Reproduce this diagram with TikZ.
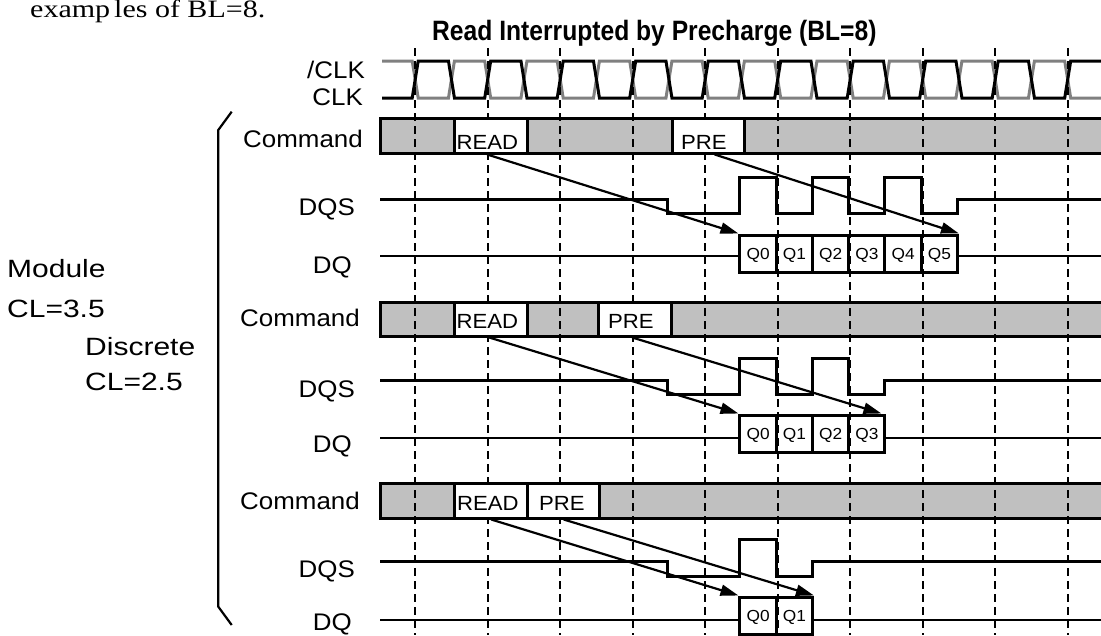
\documentclass[tikz,border=0pt]{standalone}
\usepackage{fontspec}
\setmainfont{Liberation Sans}
\newfontfamily\labfont{Liberation Sans}[FakeStretch=1.08]
\newfontfamily\sidefont{Liberation Sans}[FakeStretch=1.2]
\newfontfamily\titlefont{Liberation Sans}[FakeStretch=0.88]
\newfontfamily\serffont{Liberation Serif}[FakeStretch=1.2]
\usetikzlibrary{arrows.meta,calc}
\definecolor{bargray}{RGB}{192,192,192}
\definecolor{clkgray}{RGB}{128,128,128}
\newcommand\C[1]{(415.2+36.25*(#1))}
\newcommand\X[1]{(415.2+36.25*(#1)-1.5)}
\begin{document}
\begin{tikzpicture}[x=1pt,y=-1pt,
  sig/.style={line width=3pt},
  clkline/.style={line width=3pt, line join=miter},
  thinsig/.style={line width=2pt},
  grid/.style={line width=2pt, dash pattern=on 8pt off 5pt},
  bar/.style={draw, line width=3pt, fill=bargray},
  cmdbox/.style={rectangle, draw, line width=3pt, fill=white, inner sep=0pt, minimum width=72.5pt},
  cmdtxt/.style={inner sep=0pt, anchor=base west, font=\labfont\fontsize{20.5}{24}\selectfont},
  qbox/.style={rectangle, draw, line width=3pt, fill=white, inner sep=0pt, minimum width=36.25pt, minimum height=37pt, text height=12pt, text depth=0pt, font=\labfont\fontsize{16}{18}\selectfont},
  lab/.style={inner sep=0pt, anchor=base east, font=\labfont\fontsize{24}{28}\selectfont},
  side/.style={inner sep=0pt, anchor=base west, font=\sidefont\fontsize{25}{30}\selectfont},
  arr/.style={line width=2.2pt, -{Triangle[length=18pt,width=11pt]}},
  brace/.style={line width=2.2pt}
]
\useasboundingbox (0,0) rectangle (1101,635);

% clocks
\draw[clkline, clkgray] (382,61) \foreach \k in {0,...,18} { -- ({415.2+36.25*\k-3},{61+37*mod(\k,2)}) -- ({415.2+36.25*\k+3},{98-37*mod(\k,2)}) } -- (1101,98);
\draw[clkline, black] (382,98) \foreach \k in {0,...,18} { -- ({415.2+36.25*\k-3},{98-37*mod(\k,2)}) -- ({415.2+36.25*\k+3},{61+37*mod(\k,2)}) } -- (1101,61);

% command bars
\draw[bar] (380,118) rectangle (1115,153);
\draw[bar] (380,302) rectangle (1115,336);
\draw[bar] (380,483) rectangle (1115,518);

% Q boxes
\foreach \i in {0,...,5} \node[qbox] (q1\i) at ({\X{9+\i}+18.125},253.5) {Q\i};
\foreach \i in {0,...,3} \node[qbox] (q2\i) at ({\X{9+\i}+18.125},433.5) {Q\i};
\foreach \i in {0,...,1} \node[qbox] (q3\i) at ({\X{9+\i}+18.125},615.5) {Q\i};

% DQS
\draw[sig] (380,199) -- ({\X{7}},199) |- ({\X{9}},213) |- ({\X{10}},177) |- ({\X{11}},213) |- ({\X{12}},177) |- ({\X{13}},213) |- ({\X{14}},177) |- ({\X{15}},213) |- (1101,199);
\draw[sig] (380,380) -- ({\X{7}},380) |- ({\X{9}},394) |- ({\X{10}},358) |- ({\X{11}},394) |- ({\X{12}},358) |- ({\X{13}},394) |- (1101,380);
\draw[sig] (380,561) -- ({\X{7}},561) |- ({\X{9}},576) |- ({\X{10}},539) |- ({\X{11}},576) |- (1101,561);

% DQ lines
\coordinate (dq1) at (380,256);
\coordinate (dq2) at (380,438);
\coordinate (dq3) at (380,620);
\draw[thinsig] (dq1) -- (dq1 -| q10.west);
\draw[thinsig] (dq1 -| q15.east) -- (1101,256);
\draw[thinsig] (dq2) -- (dq2 -| q20.west);
\draw[thinsig] (dq2 -| q23.east) -- (1101,438);
\draw[thinsig] (dq3) -- (dq3 -| q30.west);
\draw[thinsig] (dq3 -| q31.east) -- (1101,620);

% dashed clock grid
\foreach \j in {0,...,9} \draw[grid] ({415.2+72.5*\j},48) -- ({415.2+72.5*\j},635);

% command boxes
\node[cmdbox, minimum height=35pt] (read1) at ({\C{2}+3.5},135.5) {};
\node[cmdbox, minimum height=35pt] (pre1) at ({\C{8}+3.5},135.5) {};
\node[cmdbox, minimum height=34pt] (read2) at ({\C{2}+3.5},319) {};
\node[cmdbox, minimum height=34pt] (pre2) at ({\C{6}+2.5},319) {};
\node[cmdbox, minimum height=35pt] (read3) at ({\C{2}+3.5},500.5) {};
\node[cmdbox, minimum height=35pt] (pre3) at ({\C{4}+3.5},500.5) {};
\node[cmdtxt] (rt1) at ($(read1.south west)+(3,-5)$) {READ};
\node[cmdtxt] (pt1) at ($(pre1.south west)+(10,-5)$) {PRE};
\node[cmdtxt] (rt2) at ($(read2.south west)+(3,-9)$) {READ};
\node[cmdtxt] (pt2) at ($(pre2.south west)+(10.5,-9)$) {PRE};
\node[cmdtxt] (rt3) at ($(read3.south west)+(3.5,-9.5)$) {READ};
\node[cmdtxt] (pt3) at ($(pre3.south west)+(13,-9.5)$) {PRE};

% arrows
\draw[arr] ($(read1.south)+(-4,0)$) -- (q10.north west);
\draw[arr] ($(pre1.south)+(6,0)$) -- (q15.north east);
\draw[arr] ($(read2.south)+(-2,0)$) -- (q20.north west);
\draw[arr] ($(pre2.south)+(-3,0)$) -- ($(q23.north east)+(-5,0)$);
\draw[arr] (read3.south) -- (q30.north west);
\draw[arr] (pre3.south) -- (q31.north east);

% labels
\node[lab] (nclkb) at (365,78) {/CLK};
\node[lab] (nclk) at (363,105) {CLK};
\node[lab] (cmd1) at (363,147.7) {Command};
\node[lab] (dqs1) at (355,215) {DQS};
\node[lab] (dqa1) at (352,273) {DQ};
\node[lab] (cmd2) at (360,326.7) {Command};
\node[lab] (dqs2) at (355,397) {DQS};
\node[lab] (dqa2) at (352,452) {DQ};
\node[lab] (cmd3) at (360,509.3) {Command};
\node[lab] (dqs3) at (355,577.3) {DQS};
\node[lab] (dqa3) at (352,630) {DQ};

\node[side] (mod) at (7,277) {Module};
\node[side] (cl35) at (7,317) {CL=3.5};
\node[side] (disc) at (85,355) {Discrete};
\node[side] (cl25) at (85,390) {CL=2.5};

\draw[brace] (231.7,111.7) -- (218.3,130) -- (218.3,606.7) -- (231.7,625);

\node[anchor=base west, inner sep=0pt, font=\titlefont\bfseries\fontsize{28}{32}\selectfont] (title) at (432,40) {Read Interrupted by Precharge (BL=8)};
\node[anchor=base west, inner sep=0pt, font=\serffont\fontsize{25}{29}\selectfont] (intro) at (30,17.5) {examp\kern4pt les of BL=8.};
\end{tikzpicture}
\end{document}
